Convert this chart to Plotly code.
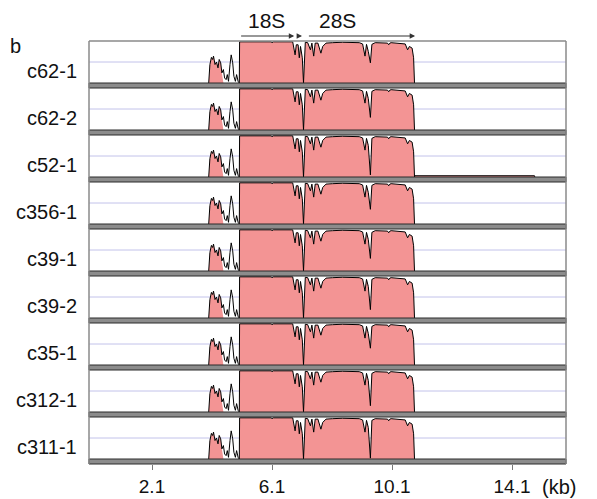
import plotly.graph_objects as go

# ---------------- data ----------------
samples = ["c62-1", "c62-2", "c52-1", "c356-1", "c39-1", "c39-2", "c35-1", "c312-1", "c311-1"]

# shared read-coverage profile (position in kb, relative coverage 0..1)
pos_kb = [3.99, 4.03, 4.08, 4.12, 4.15, 4.20, 4.25, 4.30, 4.34, 4.39,
          4.43, 4.48, 4.52, 4.57, 4.61, 4.65, 4.70, 4.74, 4.79, 4.83,
          4.88, 4.92, 4.97, 5.01,
          5.02, 6.07, 6.10, 6.14, 6.79, 6.87, 6.91, 6.97, 7.01, 7.05,
          7.11, 7.15, 7.21, 7.29, 7.38, 7.43, 7.49, 7.54, 7.63, 7.73,
          7.79, 7.90, 8.12, 8.45, 9.01, 9.12, 9.20, 9.25, 9.31, 9.38,
          9.43, 9.54, 9.95, 9.99, 10.03, 10.07, 10.54, 10.62, 10.68, 10.77,
          10.82, 10.85]
cov_line = [0.00, 0.44, 0.61, 0.56, 0.64, 0.44, 0.50, 0.36, 0.56, 0.48,
            0.24, 0.32, 0.12, 0.08, 0.20, 0.04, 0.44, 0.67, 0.48, 0.16,
            0.04, 0.20, 0.04, 0.00,
            0.98, 0.98, 0.96, 0.98, 0.98, 0.67, 0.91, 0.91, 0.60, 0.87,
            0.60, 0.00, 0.97, 0.96, 0.79, 0.95, 0.64, 0.95, 0.95, 0.71,
            0.87, 0.95, 0.96, 0.97, 0.96, 0.93, 0.64, 0.92, 0.75, 0.48,
            0.92, 0.96, 0.95, 0.91, 0.95, 0.96, 0.93, 0.79, 0.87, 0.83,
            0.60, 0.00]
cov_fill = [0.00, 0.44, 0.61, 0.56, 0.64, 0.44, 0.50, 0.36, 0.56, 0.48,
            0.24, 0.00, 0.00, 0.00, 0.00, 0.00, 0.00, 0.00, 0.00, 0.00,
            0.00, 0.00, 0.00, 0.00,
            0.98, 0.98, 0.96, 0.98, 0.98, 0.67, 0.91, 0.91, 0.60, 0.87,
            0.60, 0.00, 0.97, 0.96, 0.79, 0.95, 0.64, 0.95, 0.95, 0.71,
            0.87, 0.95, 0.96, 0.97, 0.96, 0.93, 0.64, 0.92, 0.75, 0.48,
            0.92, 0.96, 0.95, 0.91, 0.95, 0.96, 0.93, 0.79, 0.87, 0.83,
            0.60, 0.00]
# per-sample depth of the dip at ~9.38 kb
dip_938_kb = [0.48, 0.30, 0.05, 0.35, 0.30, 0.20, 0.40, 0.15, 0.02]
# faint low-coverage tail seen only in c52-1
c52_tail_kb = [10.86, 14.85, 14.86]
c52_tail_cov = [0.03, 0.03, 0.00]

# rRNA features drawn above the tracks
feat_names = ["18S", "", "28S"]
feat_start = [5.02, 6.95, 7.28]
feat_end = [6.84, 7.10, 10.87]

x_ticks = [2.1, 6.1, 10.1, 14.1]
x_tick_labels = ["2.1", "6.1", "10.1", "14.1"]

assert len(pos_kb) == len(cov_line) == len(cov_fill)

# ---------------- layout geometry (page pixels) ----------------
OFF = 8                      # page body margin
W, H = 597 - OFF, 499 - OFF
X0, X1 = 89, 566             # plot area left/right in page px
Y0, Y1 = 41, 464             # plot area top/bottom in page px
L, R = X0 - OFF, (W + OFF) - X1
T, B = Y0 - OFF, (H + OFF) - Y1
plot_h = Y1 - Y0
plot_w = X1 - X0
pitch, content = 47, 42
FONT = "Liberation Sans, Arial, sans-serif"
PINK = "#f39494"


def py(px):
    return 1 - (px - Y0) / plot_h


def pxx(px):
    return (px - X0) / plot_w


fig = go.Figure()
shapes = []
annotations = []
idx_dip = pos_kb.index(9.38)

for i, name in enumerate(samples):
    yname = "y" if i == 0 else f"y{i + 1}"
    ykey = "yaxis" if i == 0 else f"yaxis{i + 1}"
    top = Y0 + pitch * i
    bot = top + content

    line_vals = list(cov_line)
    fill_vals = list(cov_fill)
    line_vals[idx_dip] = dip_938_kb[i]
    fill_vals[idx_dip] = dip_938_kb[i]
    xs = list(pos_kb)
    if name == "c52-1":
        xs += c52_tail_kb
        line_vals += c52_tail_cov
        fill_vals += c52_tail_cov

    fig.add_trace(go.Scatter(x=xs, y=fill_vals, xaxis="x", yaxis=yname, mode="lines",
                             line=dict(width=0, color=PINK), fill="tozeroy",
                             fillcolor=PINK, hoverinfo="skip", showlegend=False))
    fig.add_trace(go.Scatter(x=xs, y=line_vals, xaxis="x", yaxis=yname, mode="lines",
                             line=dict(width=1, color="#000000"),
                             hoverinfo="skip", showlegend=False))

    fig.layout[ykey] = dict(domain=[py(bot), py(top)], range=[0, 1.0], visible=False,
                            fixedrange=True, automargin=False)

    # light centre line
    shapes.append(dict(type="line", xref="paper", yref=yname, x0=0, x1=1, y0=0.5, y1=0.5,
                       line=dict(color="#c2c2ea", width=1), layer="below"))
    # grey separator band
    shapes.append(dict(type="rect", xref="paper", yref="paper", x0=0, x1=1,
                       y0=py(bot + 5), y1=py(bot), fillcolor="#8c8c8c",
                       line=dict(color="#2a2a2a", width=1), layer="above"))
    annotations.append(dict(text=name, xref="paper", yref="paper",
                            x=pxx(79), y=py(top + 30),
                            xanchor="right", yanchor="middle", showarrow=False,
                            font=dict(family=FONT, size=20, color="#111")))

# outer frame
shapes.append(dict(type="line", xref="paper", yref="paper", x0=0, x1=1, y0=1, y1=1,
                   line=dict(color="#8a8a8a", width=1.5)))
shapes.append(dict(type="line", xref="paper", yref="paper", x0=0, x1=0, y0=0, y1=1,
                   line=dict(color="#8a8a8a", width=1.5)))
shapes.append(dict(type="line", xref="paper", yref="paper", x0=1, x1=1, y0=0, y1=1,
                   line=dict(color="#8a8a8a", width=1.5)))

# feature arrows and labels
y_arrow = py(36)
for nm, s, e in zip(feat_names, feat_start, feat_end):
    annotations.append(dict(text="", xref="x", yref="paper", x=e, y=y_arrow,
                            axref="x", ayref="pixel", ax=s, ay=0, showarrow=True,
                            arrowhead=2, arrowsize=0.9, arrowwidth=1.2,
                            arrowcolor="#333333"))
    if nm:
        annotations.append(dict(text=nm, xref="x", yref="paper",
                                x=(s + e) / 2 if nm == "18S" else s + 1.0,
                                y=py(20), xanchor="center", yanchor="middle", showarrow=False,
                                font=dict(family=FONT, size=21, color="#111")))

annotations.append(dict(text="(kb)", xref="paper", yref="paper", x=pxx(559),
                        y=py(487), xanchor="center", yanchor="middle", showarrow=False,
                        font=dict(family=FONT, size=20, color="#111")))
annotations.append(dict(text="b", xref="paper", yref="paper", x=pxx(OFF),
                        y=py(46), xanchor="left", yanchor="middle", showarrow=False,
                        font=dict(family=FONT, size=20, color="#111")))

fig.update_layout(
    width=W, height=H, autosize=False,
    margin=dict(l=L, r=R, t=T, b=B, pad=0, autoexpand=False),
    paper_bgcolor="white", plot_bgcolor="white",
    xaxis=dict(domain=[0, 1], range=[0, 15.9], anchor="free", position=0,
               tickmode="array", tickvals=x_ticks, ticktext=x_tick_labels,
               ticks="outside", ticklen=5, tickwidth=1, tickcolor="#777",
               ticklabelstandoff=0, automargin=False,
               showgrid=False, zeroline=False, showline=False, fixedrange=True,
               tickfont=dict(family=FONT, size=19, color="#111")),
    shapes=shapes, annotations=annotations, showlegend=False,
)

fig.write_html("out.html")
